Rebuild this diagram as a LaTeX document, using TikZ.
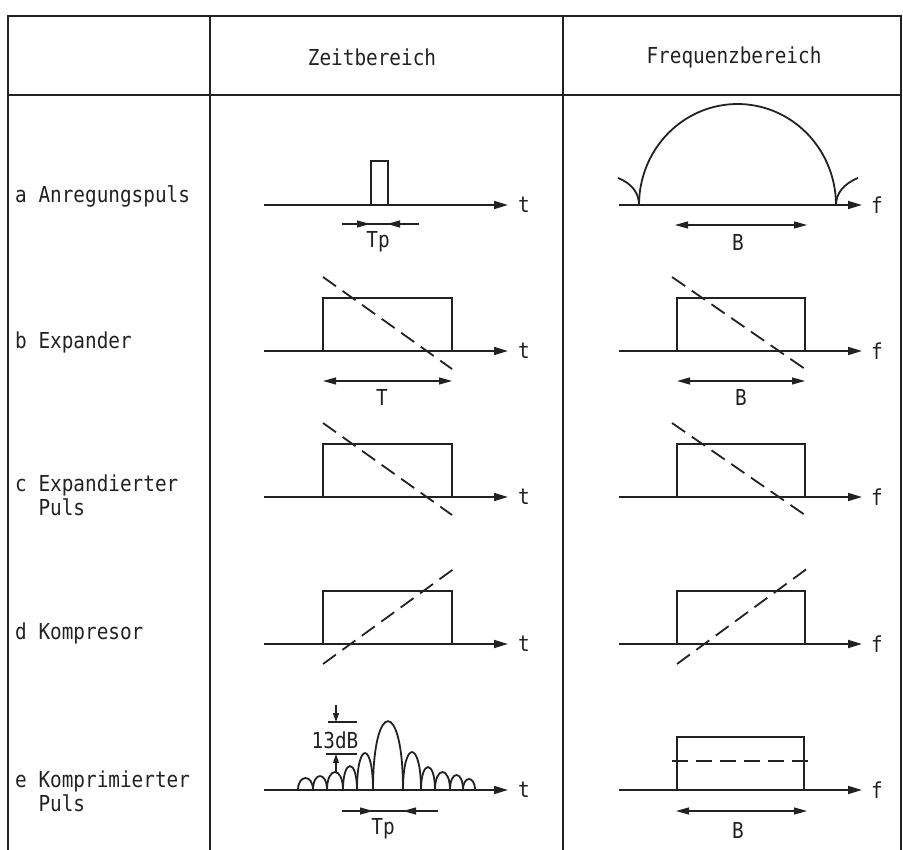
\documentclass[tikz,border=0pt]{standalone}
\usepackage{fontspec}
\newfontfamily\tyfont[FakeStretch=0.88]{DejaVu Sans Mono}
\usepackage{tikz}
\usetikzlibrary{arrows.meta}
\definecolor{inkGray}{HTML}{222222}
\tikzset{
  frame/.style={inkGray, line width=1.6pt},
  trace/.style={inkGray, line width=1.8pt},
  axis/.style={trace, -{Triangle[length=14pt,width=8pt]}},
  span/.style={inkGray, line width=1.2pt, {Triangle[length=13pt,width=7pt]}-{Triangle[length=13pt,width=7pt]}},
  inward/.style={inkGray, line width=1.2pt, -{Triangle[length=13pt,width=7pt]}},
  tick/.style={inkGray, line width=1.2pt, -{Triangle[length=9pt,width=6pt]}},
  chirp/.style={trace, dash pattern=on 16pt off 8pt},
  lbl/.style={inner sep=0pt, text=inkGray, font=\tyfont\fontsize{22}{24}\selectfont}
}
\begin{document}
\begin{tikzpicture}[x=1pt,y=-1pt]
  \useasboundingbox (0,0) rectangle (903,850);
  % table
  \draw[frame] (8,850) |- (901,16) -- (901,850);
  \draw[frame] (8,95) -- (901,95);
  \draw[frame] (210,16) -- (210,850);
  \draw[frame] (563,16) -- (563,850);
  \node[lbl] (hd-time) at (372,57) {Zeitbereich};
  \node[lbl] (hd-freq) at (734,57) {Frequenzbereich};
  % row labels
  \node[lbl, anchor=base west] (lab-a) at (15,203) {a Anregungspuls};
  \node[lbl, anchor=base west] (lab-b) at (15,349) {b Expander};
  \node[lbl, anchor=base west] (lab-c) at (15,491) {c Expandierter};
  \node[lbl, anchor=base west] (lab-c2) at ([yshift=-24pt]lab-c.base west) {\phantom{c }Puls};
  \node[lbl, anchor=base west] (lab-d) at (15,639) {d Kompresor};
  \node[lbl, anchor=base west] (lab-e) at (15,787) {e Komprimierter};
  \node[lbl, anchor=base west] (lab-e2) at ([yshift=-24pt]lab-e.base west) {\phantom{e }Puls};
  % axes
  \foreach \r/\y in {a/205,b/351,c/497,d/644,e/790}{
     \draw[axis] (264,\y) -- (508,\y);
     \node[lbl] (t-\r) at (524,\y) {t};
     \draw[axis] (619,\y) -- (862,\y);
     \node[lbl] (f-\r) at (877,\y) {f};}
  % a: short pulse and its spectrum
  \draw[trace] (371,205) |- (388,161) -- (388,205);
  \draw[inkGray, line width=1.2pt] (342,224) -- (419,224);
  \draw[inward] (342,224) -- (370,224);
  \draw[inward] (419,224) -- (387,224);
  \node[lbl] (tp-a) at (378,242) {Tp};
  \draw[trace] plot[domain=0:180, samples=60] ({737.5+98.5*cos(\x)}, {205-101*sin(\x)});
  \draw[trace] (618,178) .. controls (633,184) and (639,194) .. (639,205);
  \draw[trace] (858,178) .. controls (843,184) and (836,194) .. (836,205);
  \draw[span] (675,225) -- (807,225);
  \node[lbl] (bw-a) at (738,242) {B};
  % b, c, d: chirp boxes
  \foreach \y in {351,497,644}{
     \draw[trace] (323,\y) |- (452,\y-53) -- (452,\y);
     \draw[trace] (677,\y) |- (805,\y-53) -- (805,\y);}
  \foreach \y in {351,497}{
     \draw[chirp] (323,\y-74) -- (452,\y+18);
     \draw[chirp] (672,\y-74) -- (805,\y+18);}
  \draw[chirp] (323,664) -- (455,568);
  \draw[chirp] (677,664) -- (808,568);
  \draw[span] (323,381) -- (452,381);
  \node[lbl] (len-b) at (382,397) {T};
  \draw[span] (677,381) -- (805,381);
  \node[lbl] (bw-b) at (741,397) {B};
  % e: compressed pulse with sidelobes
  \foreach \xa/\xb/\h in {298/313/12,313/327/14,327/343/18,343/357/24,357/373/37,373/403/69,
                          403/421/38,421/435/23,435/450/18,450/463/15,463/475/11}{
     \draw[trace] (\xa,790) .. controls (\xa,790-1.33*\h) and (\xb,790-1.33*\h) .. (\xb,790);}
  \draw[inkGray, line width=1.2pt] (328,722) -- (357,722);
  \draw[inkGray, line width=1.2pt] (326,754) -- (357,754);
  \draw[tick] (336,705) -- (336,722);
  \draw[tick] (336,772) -- (336,754);
  \node[lbl] (db-e) at (335,740) {13dB};
  \draw[inkGray, line width=1.2pt] (342,811) -- (438,811);
  \draw[inward] (342,811) -- (373,811);
  \draw[inward] (438,811) -- (403,811);
  \node[lbl] (tp-e) at (383,829) {Tp};
  \draw[trace] (677,790) |- (804,737) -- (804,790);
  \draw[chirp] (672,761) -- (812,761);
  \draw[span] (676,811) -- (807,811);
  \node[lbl] (bw-e) at (738,830) {B};
\end{tikzpicture}
\end{document}
